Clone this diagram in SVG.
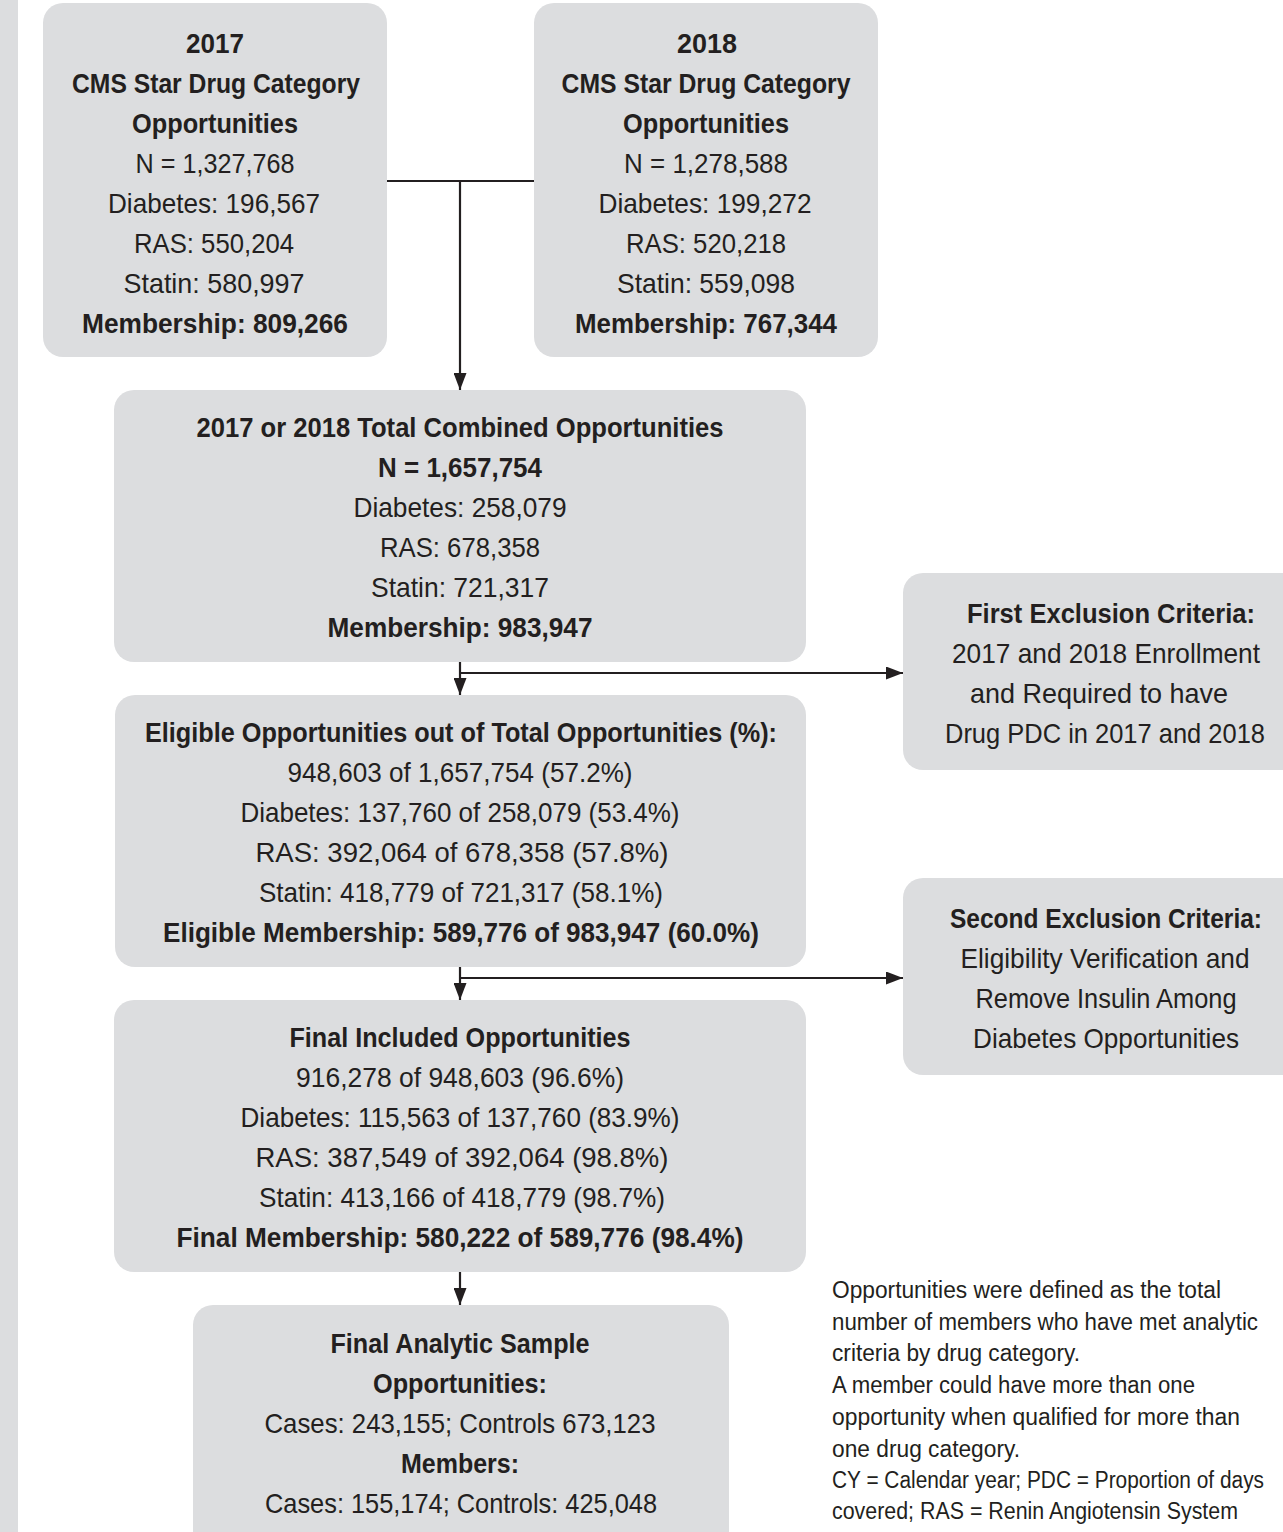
<svg xmlns="http://www.w3.org/2000/svg" width="1283" height="1532" viewBox="0 0 1283 1532">
<style>
.box{fill:#dcdddf;}
.t{font-family:"Liberation Sans",Arial,sans-serif;font-size:28px;fill:#231f20;text-anchor:middle;}
.b{font-weight:bold;}
.n{font-family:"Liberation Sans",Arial,sans-serif;font-size:23px;fill:#231f20;}
.c{stroke:#231f20;stroke-width:2.2;fill:none;}
</style>
<defs>
<marker id="ah" markerUnits="userSpaceOnUse" markerWidth="17" markerHeight="13" refX="17" refY="6.5" orient="auto">
<path d="M0,0 L17,6.5 L0,13 z" fill="#231f20"/>
</marker>
</defs>
<rect x="0" y="0" width="18" height="1532" fill="#dcdddf"/>

<g id="connectors">
<line class="c" x1="387" y1="181" x2="534" y2="181"/>
<line class="c" x1="460" y1="181" x2="460" y2="390" marker-end="url(#ah)"/>
<line class="c" x1="460" y1="662" x2="460" y2="695" marker-end="url(#ah)"/>
<line class="c" x1="460" y1="673" x2="903" y2="673" marker-end="url(#ah)"/>
<line class="c" x1="460" y1="967" x2="460" y2="1000" marker-end="url(#ah)"/>
<line class="c" x1="460" y1="978" x2="903" y2="978" marker-end="url(#ah)"/>
<line class="c" x1="460" y1="1272" x2="460" y2="1305" marker-end="url(#ah)"/>
</g>

<g id="box2017">
<rect class="box" x="43" y="3" width="344" height="354" rx="20"/>
<text class="t b" x="215" y="53" textLength="58" lengthAdjust="spacingAndGlyphs">2017</text>
<text class="t b" x="216" y="93" textLength="288" lengthAdjust="spacingAndGlyphs">CMS Star Drug Category</text>
<text class="t b" x="215" y="133" textLength="166" lengthAdjust="spacingAndGlyphs">Opportunities</text>
<text class="t" x="215" y="173" textLength="159" lengthAdjust="spacingAndGlyphs">N = 1,327,768</text>
<text class="t" x="214" y="213" textLength="212" lengthAdjust="spacingAndGlyphs">Diabetes: 196,567</text>
<text class="t" x="214" y="253" textLength="160" lengthAdjust="spacingAndGlyphs">RAS: 550,204</text>
<text class="t" x="214" y="293" textLength="181" lengthAdjust="spacingAndGlyphs">Statin: 580,997</text>
<text class="t b" x="215" y="333" textLength="266" lengthAdjust="spacingAndGlyphs">Membership: 809,266</text>
</g>

<g id="box2018">
<rect class="box" x="534" y="3" width="344" height="354" rx="20"/>
<text class="t b" x="707" y="53" textLength="60" lengthAdjust="spacingAndGlyphs">2018</text>
<text class="t b" x="706" y="93" textLength="289" lengthAdjust="spacingAndGlyphs">CMS Star Drug Category</text>
<text class="t b" x="706" y="133" textLength="166" lengthAdjust="spacingAndGlyphs">Opportunities</text>
<text class="t" x="706" y="173" textLength="164" lengthAdjust="spacingAndGlyphs">N = 1,278,588</text>
<text class="t" x="705" y="213" textLength="213" lengthAdjust="spacingAndGlyphs">Diabetes: 199,272</text>
<text class="t" x="706" y="253" textLength="160" lengthAdjust="spacingAndGlyphs">RAS: 520,218</text>
<text class="t" x="706" y="293" textLength="178" lengthAdjust="spacingAndGlyphs">Statin: 559,098</text>
<text class="t b" x="706" y="333" textLength="262" lengthAdjust="spacingAndGlyphs">Membership: 767,344</text>
</g>

<g id="boxCombined">
<rect class="box" x="114" y="390" width="692" height="272" rx="20"/>
<text class="t b" x="460" y="437" textLength="527" lengthAdjust="spacingAndGlyphs">2017 or 2018 Total Combined Opportunities</text>
<text class="t b" x="460" y="477" textLength="164" lengthAdjust="spacingAndGlyphs">N = 1,657,754</text>
<text class="t" x="460" y="517" textLength="213" lengthAdjust="spacingAndGlyphs">Diabetes: 258,079</text>
<text class="t" x="460" y="557" textLength="160" lengthAdjust="spacingAndGlyphs">RAS: 678,358</text>
<text class="t" x="460" y="597" textLength="178" lengthAdjust="spacingAndGlyphs">Statin: 721,317</text>
<text class="t b" x="460" y="637" textLength="265" lengthAdjust="spacingAndGlyphs">Membership: 983,947</text>
</g>

<g id="boxEligible">
<rect class="box" x="115" y="695" width="691" height="272" rx="20"/>
<text class="t b" x="461" y="742" textLength="632" lengthAdjust="spacingAndGlyphs">Eligible Opportunities out of Total Opportunities (%):</text>
<text class="t" x="460" y="782" textLength="345" lengthAdjust="spacingAndGlyphs">948,603 of 1,657,754 (57.2%)</text>
<text class="t" x="460" y="822" textLength="439" lengthAdjust="spacingAndGlyphs">Diabetes: 137,760 of 258,079 (53.4%)</text>
<text class="t" x="462" y="862" textLength="413" lengthAdjust="spacingAndGlyphs">RAS: 392,064 of 678,358 (57.8%)</text>
<text class="t" x="461" y="902" textLength="404" lengthAdjust="spacingAndGlyphs">Statin: 418,779 of 721,317 (58.1%)</text>
<text class="t b" x="461" y="942" textLength="596" lengthAdjust="spacingAndGlyphs">Eligible Membership: 589,776 of 983,947 (60.0%)</text>
</g>

<g id="boxFirstExclusion">
<rect class="box" x="903" y="573" width="400" height="197" rx="20"/>
<text class="t b" x="1111" y="623" textLength="288" lengthAdjust="spacingAndGlyphs">First Exclusion Criteria:</text>
<text class="t" x="1106" y="663" textLength="308" lengthAdjust="spacingAndGlyphs">2017 and 2018 Enrollment</text>
<text class="t" x="1099" y="703" textLength="258" lengthAdjust="spacingAndGlyphs">and Required to have</text>
<text class="t" x="1105" y="743" textLength="320" lengthAdjust="spacingAndGlyphs">Drug PDC in 2017 and 2018</text>
</g>

<g id="boxSecondExclusion">
<rect class="box" x="903" y="878" width="400" height="197" rx="20"/>
<text class="t b" x="1106" y="928" textLength="312" lengthAdjust="spacingAndGlyphs">Second Exclusion Criteria:</text>
<text class="t" x="1105" y="968" textLength="289" lengthAdjust="spacingAndGlyphs">Eligibility Verification and</text>
<text class="t" x="1106" y="1008" textLength="261" lengthAdjust="spacingAndGlyphs">Remove Insulin Among</text>
<text class="t" x="1106" y="1048" textLength="266" lengthAdjust="spacingAndGlyphs">Diabetes Opportunities</text>
</g>

<g id="boxFinalIncluded">
<rect class="box" x="114" y="1000" width="692" height="272" rx="20"/>
<text class="t b" x="460" y="1047" textLength="341" lengthAdjust="spacingAndGlyphs">Final Included Opportunities</text>
<text class="t" x="460" y="1087" textLength="328" lengthAdjust="spacingAndGlyphs">916,278 of 948,603 (96.6%)</text>
<text class="t" x="460" y="1127" textLength="439" lengthAdjust="spacingAndGlyphs">Diabetes: 115,563 of 137,760 (83.9%)</text>
<text class="t" x="462" y="1167" textLength="413" lengthAdjust="spacingAndGlyphs">RAS: 387,549 of 392,064 (98.8%)</text>
<text class="t" x="462" y="1207" textLength="406" lengthAdjust="spacingAndGlyphs">Statin: 413,166 of 418,779 (98.7%)</text>
<text class="t b" x="460" y="1247" textLength="567" lengthAdjust="spacingAndGlyphs">Final Membership: 580,222 of 589,776 (98.4%)</text>
</g>

<g id="boxFinalSample">
<rect class="box" x="193" y="1305" width="536" height="250" rx="20"/>
<text class="t b" x="460" y="1353" textLength="259" lengthAdjust="spacingAndGlyphs">Final Analytic Sample</text>
<text class="t b" x="460" y="1393" textLength="174" lengthAdjust="spacingAndGlyphs">Opportunities:</text>
<text class="t" x="460" y="1433" textLength="391" lengthAdjust="spacingAndGlyphs">Cases: 243,155; Controls 673,123</text>
<text class="t b" x="460" y="1473" textLength="118" lengthAdjust="spacingAndGlyphs">Members:</text>
<text class="t" x="461" y="1513" textLength="392" lengthAdjust="spacingAndGlyphs">Cases: 155,174; Controls: 425,048</text>
</g>

<g id="footnote">
<text class="n" x="832" y="1298" textLength="389" lengthAdjust="spacingAndGlyphs">Opportunities were defined as the total</text>
<text class="n" x="832" y="1330" textLength="426" lengthAdjust="spacingAndGlyphs">number of members who have met analytic</text>
<text class="n" x="832" y="1361" textLength="248" lengthAdjust="spacingAndGlyphs">criteria by drug category.</text>
<text class="n" x="832" y="1393" textLength="363" lengthAdjust="spacingAndGlyphs">A member could have more than one</text>
<text class="n" x="832" y="1425" textLength="408" lengthAdjust="spacingAndGlyphs">opportunity when qualified for more than</text>
<text class="n" x="832" y="1457" textLength="188" lengthAdjust="spacingAndGlyphs">one drug category.</text>
<text class="n" x="832" y="1488" textLength="432" lengthAdjust="spacingAndGlyphs">CY = Calendar year; PDC = Proportion of days</text>
<text class="n" x="832" y="1519" textLength="406" lengthAdjust="spacingAndGlyphs">covered; RAS = Renin Angiotensin System</text>
</g>
</svg>
